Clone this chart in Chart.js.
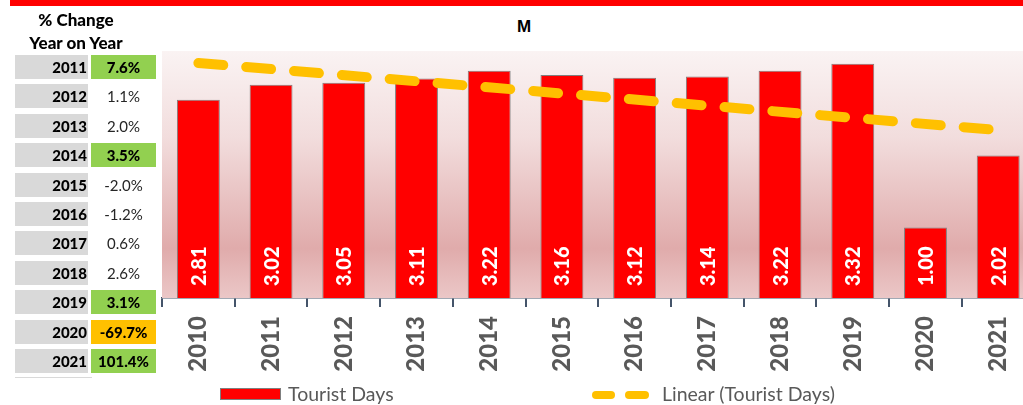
<!DOCTYPE html>
<html>
<head>
<meta charset="utf-8">
<script src="https://cdn.jsdelivr.net/npm/chart.js@4.4.1/dist/chart.umd.min.js"></script>
<style>
  html, body { margin: 0; padding: 0; background: #fff; overflow: hidden; }
  body { width: 1023px; height: 405px; position: relative; font-family: Lato, "Open Sans", sans-serif; }
  .abs { position: absolute; }
  #topBar { left: 10px; top: 0; width: 1013px; height: 6px; background: #ff0000; }
  #chartTitle { left: 474px; top: 17px; width: 100px; text-align: center; font: bold 17px "Liberation Sans", Arial, sans-serif; color: #000; }
  #chartBox { left: 0; top: 0; width: 1036px; height: 405px; }
  .hdr { left: 0; width: 152px; text-align: center; font-weight: 900; font-size: 17px; color: #000; line-height: 22px; }
  .yearCell { left: 15px; width: 73px; height: 24px; background: #d9d9d9; text-align: right; font-weight: 900; font-size: 15px; line-height: 24px; color: #000; box-sizing: border-box; padding-right: 1px; }
  .valCell { left: 91px; width: 65px; height: 24px; text-align: center; font-size: 15px; line-height: 24px; color: #262626; }
  .legendText { font-size: 19.5px; line-height: 22px; color: #595959; }
</style>
</head>
<body>
<div id="topBar" class="abs"></div>
<div id="chartTitle" class="abs">M</div>
<div id="chartBox" class="abs"><canvas id="canvas"></canvas></div>

<div class="abs hdr" style="top:9px">% Change</div>
<div class="abs hdr" style="top:32px">Year on Year</div>
<div id="yoyTable"></div>
<div class="abs" style="left:15px;top:377px;width:77px;height:1px;background:#d9d9d9"></div>

<div class="abs" style="left:220px;top:388px;width:61px;height:12px;background:#ff0000;border:1px solid #7f7f7f;box-sizing:border-box"></div>
<div class="abs legendText" style="left:288px;top:383px">Tourist Days</div>
<div class="abs" style="left:592px;top:391px;width:23px;height:8px;border-radius:4px;background:#ffc000"></div>
<div class="abs" style="left:625px;top:391px;width:24px;height:8px;border-radius:4px;background:#ffc000"></div>
<div class="abs legendText" style="left:662px;top:383px">Linear (Tourist Days)</div>

<script>
// tourist days by year (values printed inside the bars)
const years = ['2010', '2011', '2012', '2013', '2014', '2015', '2016', '2017', '2018', '2019', '2020', '2021'];
const touristDays = [2.81, 3.02, 3.05, 3.11, 3.22, 3.16, 3.12, 3.14, 3.22, 3.32, 1.00, 2.02];

// linear trend, first and last year
const trendYears = ['2010', '2021'];
const trendValues = [3.33, 2.38];

// year on year % change table
const changeYears = ['2011', '2012', '2013', '2014', '2015', '2016', '2017', '2018', '2019', '2020', '2021'];
const changePct = [7.6, 1.1, 2.0, 3.5, -2.0, -1.2, 0.6, 2.6, 3.1, -69.7, 101.4];

const yMin = 0;
const yMax = 3.5;

// build the % change table on the left
function cellFill(v) {
    if (v >= 3) return '#92d050';
    if (v <= -10) return '#ffc000';
    return null;
}

const table = document.getElementById('yoyTable');
changeYears.forEach((yr, i) => {
    const top = 55 + i * 29.4;
    const y = document.createElement('div');
    y.className = 'abs yearCell';
    y.style.top = top + 'px';
    y.textContent = yr;
    table.appendChild(y);

    const v = document.createElement('div');
    v.className = 'abs valCell';
    v.style.top = top + 'px';
    const fill = cellFill(changePct[i]);
    if (fill) {
        v.style.background = fill;
        v.style.fontWeight = '900';
        v.style.color = '#000';
    }
    v.textContent = changePct[i].toFixed(1) + '%';
    table.appendChild(v);
});

// pink gradient behind the plot area
const plotBackground = {
    id: 'plotBackground',
    beforeDatasetsDraw(chart) {
        const { ctx, chartArea } = chart;
        const g = ctx.createLinearGradient(0, chartArea.top, 0, chartArea.bottom);
        g.addColorStop(0, '#faf3f3');
        g.addColorStop(0.35, '#f2dddd');
        g.addColorStop(0.8, '#e0abab');
        g.addColorStop(1, '#ebc7c7');
        ctx.save();
        ctx.fillStyle = g;
        ctx.fillRect(chartArea.left, chartArea.top, chartArea.right - chartArea.left, chartArea.bottom - chartArea.top);
        ctx.restore();
    }
};

// rotated white value labels at the foot of each bar
const barLabels = {
    id: 'barLabels',
    afterDatasetsDraw(chart) {
        const ctx = chart.ctx;
        const meta = chart.getDatasetMeta(0);
        const base = chart.scales.y.getPixelForValue(0);
        ctx.save();
        ctx.fillStyle = '#ffffff';
        ctx.font = '900 20px Lato';
        ctx.textAlign = 'left';
        ctx.textBaseline = 'middle';
        meta.data.forEach((bar, i) => {
            ctx.save();
            ctx.translate(bar.x + 1, base - 12);
            ctx.rotate(-Math.PI / 2);
            ctx.fillText(touristDays[i].toFixed(2), 0, 0);
            ctx.restore();
        });
        ctx.restore();
    }
};

new Chart(document.getElementById('canvas').getContext('2d'), {
    data: {
        labels: years,
        datasets: [
            {
                type: 'bar',
                label: 'Tourist Days',
                data: touristDays,
                backgroundColor: '#ff0000',
                borderColor: '#7f7f7f',
                borderWidth: 1,
                barPercentage: 0.59,
                categoryPercentage: 1,
                order: 2
            },
            {
                type: 'line',
                label: 'Linear (Tourist Days)',
                data: trendYears.map((x, i) => ({ x: x, y: trendValues[i] })),
                borderColor: '#ffc000',
                borderWidth: 10,
                borderDash: [25, 23],
                borderCapStyle: 'round',
                pointRadius: 0,
                fill: false,
                order: 1
            }
        ]
    },
    options: {
        responsive: true,
        maintainAspectRatio: false,
        animation: false,
        layout: { padding: { left: 162, top: 51, right: 0, bottom: 0 } },
        plugins: {
            legend: { display: false },
            tooltip: { enabled: false }
        },
        scales: {
            x: {
                type: 'category',
                offset: true,
                grid: {
                    offset: true,
                    drawOnChartArea: false,
                    drawTicks: true,
                    tickLength: 9,
                    color: '#44546a',
                    lineWidth: 2
                },
                border: { display: true, color: '#44546a', width: 1.5 },
                ticks: {
                    autoSkip: false,
                    minRotation: 90,
                    maxRotation: 90,
                    padding: 9,
                    color: '#595959',
                    font: { family: 'Lato', weight: '900', size: 24 }
                },
                afterFit(scale) {
                    scale.height = 107;
                }
            },
            y: {
                display: false,
                min: yMin,
                max: yMax
            }
        }
    },
    plugins: [plotBackground, barLabels]
});
</script>
</body>
</html>
